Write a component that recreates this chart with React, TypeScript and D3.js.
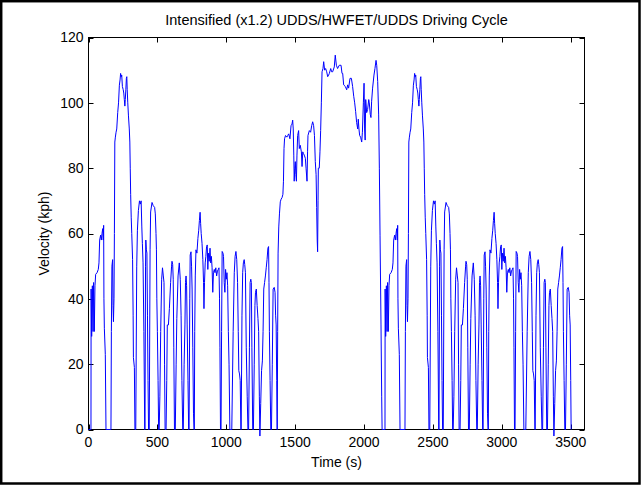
import React from 'react';
import * as d3 from 'd3';

const WIDTH = 641;
const HEIGHT = 485;

const titleText = 'Intensified (x1.2) UDDS/HWFET/UDDS Driving Cycle';
const xLabel = 'Time (s)';
const yLabel = 'Velocity (kph)';

const xTicks = [0, 500, 1000, 1500, 2000, 2500, 3000, 3500];
const yTicks = [0, 20, 40, 60, 80, 100, 120];
const xDomain = [0, 3600];
const yDomain = [0, 120];

// UDDS (x1.2) : [time from cycle start (s), velocity (kph)]
const udds: [number, number][] = [
  [0, 0], [18, 0], [19, 43], [23, 28.5], [28, 44], [33, 30], [37, 45], [42, 30], [47, 44], [52, 47.5], [62, 48], [71, 49], [76, 51], [81, 58], [88, 59.5], [93, 58], [98, 60], [103, 61.5], [107, 58], [110, 62.5], [112, 40], [115, 31], [122, 23], [127, 0],
  [163, 0], [166, 30], [170, 50], [175, 52], [178, 38], [181, 33], [185, 40], [188, 60], [191, 88], [195, 89.5], [200, 91], [205, 92], [212, 97], [218, 100], [224, 105.4], [229, 107], [233, 109], [238, 108], [241, 108.5], [246, 105], [252, 104], [256, 103], [260, 101], [264, 99], [267, 101], [271, 104], [275, 107.5], [278, 108], [281, 104], [285, 100], [290, 96], [296, 92], [300, 88], [303, 80], [306, 72], [310, 65], [314, 60], [320, 52], [324, 35], [326, 22], [333, 19], [337, 0],
  [343, 0], [350, 50], [355, 61], [362, 67], [370, 70], [376, 69], [382, 70], [387, 62], [391, 57], [396, 51], [402, 30], [408, 0],
  [410, 0], [414, 50], [416, 58], [420, 55], [424, 54], [428, 35], [432, 15], [436, 0],
  [441, 0], [447, 55], [451, 66.6], [461, 69.5], [470, 68.5], [480, 68], [485, 66], [490, 60], [493, 55], [496, 40], [500, 30], [505, 15], [509, 0],
  [513, 0], [518, 10], [524, 30], [531, 46], [537, 49.5], [543, 47], [548, 45], [552, 20], [556, 0],
  [563, 0], [568, 15], [572, 32], [580, 32], [587, 37], [596, 45], [603, 50], [606, 51.5], [611, 50.5], [615, 46], [619, 25], [624, 0],
  [630, 0], [636, 20], [641, 34], [650, 47], [659, 51], [666, 46], [672, 35], [678, 15], [684, 0],
  [688, 0], [694, 20], [700, 32], [704, 45], [708, 47], [712, 44], [716, 32], [722, 15], [727, 0],
  [730, 0], [735, 40], [738, 53.4], [744, 54.4], [748, 50], [752, 43], [757, 25], [762, 5], [766, 0],
  [768, 0], [771, 30], [775, 47], [780, 55], [787, 54], [794, 58.5], [800, 61], [805, 64], [810, 66.5], [814, 63], [818, 60], [824, 57], [830, 52], [835, 45], [838, 37], [842, 45], [847, 51], [852, 53], [857, 56], [862, 56.5], [866, 49], [870, 54], [876, 51.5], [882, 55.5], [887, 51], [892, 53], [897, 49.5], [902, 42], [907, 48], [913, 49], [918, 48], [924, 49.5], [930, 47], [936, 48.5], [942, 49], [947, 49.5], [951, 40], [954, 25], [958, 0],
  [962, 0], [966, 30], [970, 54.5], [976, 54], [980, 53], [985, 45], [990, 42], [995, 49], [1000, 46], [1005, 48], [1010, 44], [1015, 30], [1020, 20], [1026, 0],
  [1040, 0], [1050, 30], [1058, 48], [1064, 53], [1070, 54.5], [1076, 52], [1082, 45], [1087, 30], [1091, 18], [1096, 17], [1101, 15], [1106, 0],
  [1108, 0], [1114, 35], [1119, 48], [1124, 51], [1130, 52], [1134, 50.5], [1139, 48], [1145, 25], [1152, 10], [1157, 0],
  [1162, 0], [1168, 25], [1173, 45], [1178, 46], [1182, 45], [1186, 25], [1192, 0],
  [1197, 0], [1203, 20], [1208, 38], [1212, 42], [1218, 43], [1224, 38], [1230, 34], [1235, 30], [1240, 10], [1244, -2], [1250, 8], [1256, 18], [1262, 21], [1267, 30], [1272, 43], [1278, 45], [1284, 47], [1290, 49.5], [1296, 52], [1302, 55.5], [1307, 56], [1310, 45], [1313, 30], [1318, 15], [1323, 0],
  [1328, 0], [1334, 20], [1340, 43], [1348, 43.5], [1354, 42], [1358, 35], [1362, 32], [1366, 15], [1369, 0],
];

// HWFET (x1.2) : [time (s), velocity (kph)]
const hwfet: [number, number][] = [
  [1370, 0], [1373, 30], [1376, 54], [1381, 62], [1386, 66], [1392, 69.7], [1398, 70.5], [1405, 71], [1411, 72], [1415, 76], [1419, 86], [1423, 89], [1430, 90], [1440, 89.5], [1446, 90], [1453, 90.5], [1462, 89], [1470, 93], [1477, 93.5], [1482, 94.7], [1486, 92], [1490, 84], [1493, 76], [1497, 80], [1501, 82], [1505, 78], [1509, 76], [1513, 84], [1518, 90], [1525, 91.5], [1530, 86], [1537, 87], [1545, 85], [1550, 80.5], [1555, 85], [1560, 84.5], [1566, 84], [1574, 83], [1579, 80], [1586, 76], [1590, 85], [1593, 90], [1603, 91.5], [1612, 91], [1620, 93], [1627, 94.2], [1634, 93], [1640, 90], [1646, 82], [1652, 78], [1656, 68], [1660, 58], [1663, 54.4], [1666, 70], [1668, 80], [1675, 80], [1680, 85], [1685, 91.5], [1690, 100], [1695, 109.5], [1702, 110.5], [1707, 112.6], [1714, 110], [1721, 110.5], [1729, 109.5], [1736, 108], [1743, 108.5], [1748, 109], [1758, 110.5], [1765, 109.5], [1772, 109.5], [1784, 111], [1791, 114.6], [1799, 111.5], [1808, 110.5], [1820, 111.5], [1833, 111.5], [1840, 109], [1845, 109], [1852, 105.5], [1864, 105], [1874, 104], [1881, 105.5], [1888, 104.5], [1898, 107.5], [1908, 107.5], [1917, 105], [1925, 102], [1932, 100], [1939, 97.3], [1946, 94], [1954, 92], [1958, 95], [1963, 92], [1968, 90], [1975, 89.5], [1983, 88], [1988, 91], [1995, 100], [2000, 106], [2004, 92], [2008, 88.6], [2012, 101], [2019, 97], [2026, 98], [2034, 101], [2038, 100], [2045, 96.5], [2050, 95.5], [2055, 100.5], [2062, 104.5], [2072, 108.5], [2079, 110.5], [2087, 113], [2092, 111.5], [2099, 106.5], [2106, 96.3], [2111, 80], [2116, 59.5], [2123, 32], [2128, 10], [2131, 0], [2134, 0],
];

// start time of the second UDDS cycle (s)
const secondUddsStart = 2134;

const FONT = '"Liberation Sans", Arial, Helvetica, sans-serif';

export default function App() {
  const left = 88.5, right = 584.5, top = 37.5, bottom = 429.5;
  const x = d3.scaleLinear().domain(xDomain).range([left, right]);
  const y = d3.scaleLinear().domain(yDomain).range([bottom, top]);

  const series: [number, number][] = [
    ...udds,
    ...hwfet,
    ...udds.map(([t, v]) => [t + secondUddsStart, v] as [number, number]),
  ];
  const line = d3.line<[number, number]>().x(d => x(d[0])).y(d => y(d[1]));
  const tickLen = 5;
  const fs = 14;

  return (
    <svg width={WIDTH} height={HEIGHT} style={{ position: 'absolute', left: 0, top: 0, background: '#fff' }}>
      <rect x={0} y={0} width={WIDTH} height={HEIGHT} fill="#fff" />
      <rect x={1.2} y={1.2} width={638.3} height={482.3} fill="none" stroke="#000" strokeWidth={2.5} />
      <rect x={left} y={top} width={right - left} height={bottom - top} fill="#fff" stroke="#000" strokeWidth={1} />
      {xTicks.map(t => (
        <g key={'x' + t}>
          <line x1={Math.round(x(t)) + 0.5} x2={Math.round(x(t)) + 0.5} y1={bottom} y2={bottom - tickLen} stroke="#000" />
          <line x1={Math.round(x(t)) + 0.5} x2={Math.round(x(t)) + 0.5} y1={top} y2={top + tickLen} stroke="#000" />
          <text x={x(t)} y={447} fontFamily={FONT} fontSize={fs} textAnchor="middle" fill="#000">{t}</text>
        </g>
      ))}
      {yTicks.map(v => (
        <g key={'y' + v}>
          <line x1={left} x2={left + tickLen} y1={Math.round(y(v)) + 0.5} y2={Math.round(y(v)) + 0.5} stroke="#000" />
          <line x1={right} x2={right - tickLen} y1={Math.round(y(v)) + 0.5} y2={Math.round(y(v)) + 0.5} stroke="#000" />
          <text x={83.5} y={y(v)} dy="0.35em" fontFamily={FONT} fontSize={fs} textAnchor="end" fill="#000">{v}</text>
        </g>
      ))}
      <path d={line(series) || ''} fill="none" stroke="#0000ff" strokeWidth={1} strokeLinejoin="round" />
      <text x={(left + right) / 2} y={25} fontFamily={FONT} fontSize={14.5} textAnchor="middle" fill="#000">{titleText}</text>
      <text x={(left + right) / 2} y={467} fontFamily={FONT} fontSize={fs} textAnchor="middle" fill="#000">{xLabel}</text>
      <text transform={`translate(49, ${(top + bottom) / 2}) rotate(-90)`} fontFamily={FONT} fontSize={fs} textAnchor="middle" fill="#000">{yLabel}</text>
    </svg>
  );
}
